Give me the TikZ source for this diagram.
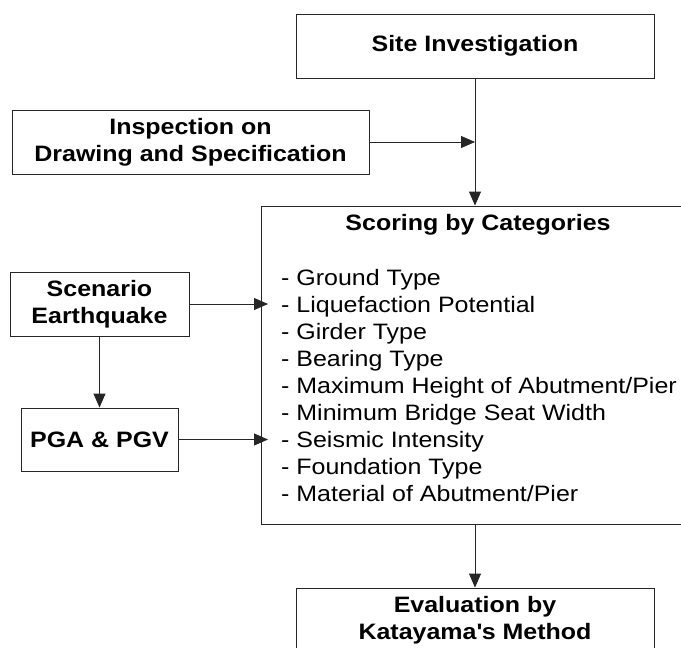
\documentclass[tikz,border=0pt]{standalone}
\usepackage{fontspec}
\setmainfont{Liberation Sans}[FakeStretch=1.12]
\usetikzlibrary{arrows.meta}
\tikzset{
  box/.style={draw=black!85, line width=0.9pt, fill=white, inner sep=0pt, align=center,
    font=\fontsize{22.3}{27}\selectfont\bfseries},
  item/.style={anchor=base west, inner sep=0pt, font=\fontsize{22.3}{27}\selectfont},
  arr/.style={draw=black!85, line width=0.9pt, -{Triangle[length=14pt,width=12pt]}},
}
\begin{document}
\begin{tikzpicture}[x=1pt,y=-1pt]
\useasboundingbox (0,0) rectangle (681,648);
\fill[white] (0,0) rectangle (681,648);
\clip (0,0) rectangle (681,648);
% boxes
\node[box, minimum width=358pt, minimum height=64pt] (site) at (475,46) {Site Investigation};
\node[box, minimum width=357pt, minimum height=64pt] (insp) at (190.5,142) {Inspection on\\Drawing and Specification};
\node[box, minimum width=439pt, minimum height=318pt] (scoring) at (480.5,365) {};
\node[box, minimum width=179pt, minimum height=64pt] (scen) at (99.5,304) {Scenario\\Earthquake};
\node[box, minimum width=157pt, minimum height=63pt] (pga) at (99.5,439.5) {PGA \& PGV};
\node[box, minimum width=358pt, minimum height=64pt] (eval) at (475,620) {Evaluation by\\Katayama\textquotesingle s Method};
% scoring contents
\node[anchor=base, inner sep=0pt, font=\fontsize{22.3}{27}\selectfont\bfseries] (title) at (478,230) {Scoring by Categories};
\foreach \t [count=\k from 0] in {Ground Type, Liquefaction Potential, Girder Type, Bearing Type,
  Maximum Height of Abutment/Pier, Minimum Bridge Seat Width, Seismic Intensity,
  Foundation Type, Material of Abutment/Pier}
  \node[item] (l\k) at (281,285+27*\k) {- \t};
% connectors
\coordinate (t1) at (268,304);
\coordinate (t2) at (268,439.5);
\draw[arr] (site.south) -- (site.south |- scoring.north);
\draw[arr] (insp.east) -- (insp.east -| site.south);
\draw[arr] (scen.east) -- (t1);
\draw[arr] (scen.south) -- (pga.north);
\draw[arr] (pga.east) -- (t2);
\draw[arr] (eval.north |- scoring.south) -- (eval.north);
\end{tikzpicture}
\end{document}
